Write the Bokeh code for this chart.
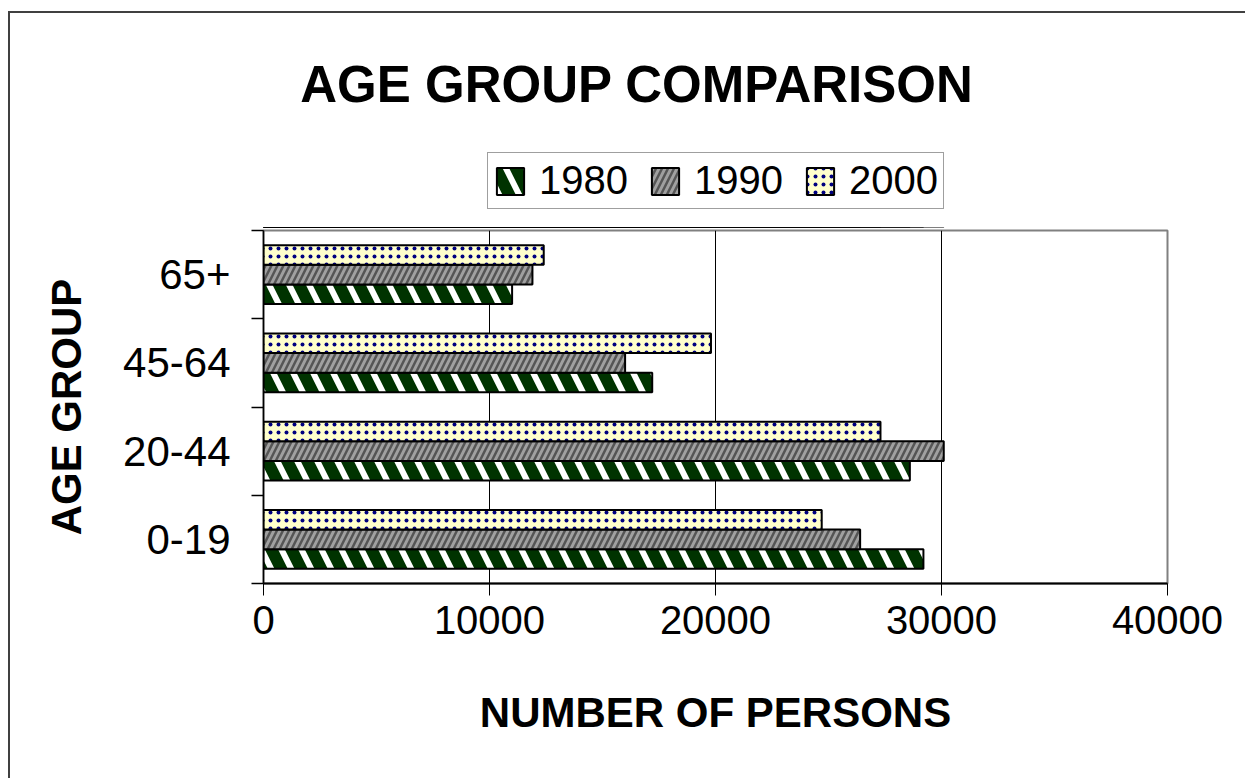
from bokeh.plotting import figure
from bokeh.models import Range1d, FixedTicker, Legend, LegendItem, Label
from bokeh.layouts import column
from bokeh.embed import file_html
from bokeh.resources import INLINE
import numpy as np

# ---- data ----
groups = ["0-19", "20-44", "45-64", "65+"]
years = ["1980", "1990", "2000"]
persons_1980 = [29200, 28600, 17200, 11000]
persons_1990 = [26400, 30100, 16000, 11900]
persons_2000 = [24700, 27300, 19800, 12400]
x_ticks = [0, 10000, 20000, 30000, 40000]

title_text = "AGE GROUP COMPARISON"
x_title = "NUMBER OF PERSONS"
y_title = "AGE GROUP"

FONT = "Liberation Sans"

series = [persons_1980, persons_1990, persons_2000]
styles = [
    dict(fill_color="#003300", hatch_pattern="left_diagonal_line", hatch_color="white",
         hatch_scale=40, hatch_weight=6),
    dict(fill_color="#a0a0a0", hatch_pattern="right_diagonal_line", hatch_color="#555555",
         hatch_scale=12, hatch_weight=2.5),
    dict(fill_color="#ffffcc", hatch_pattern="dot", hatch_color="#000080",
         hatch_scale=8, hatch_weight=7),
]

n = len(groups)
centers = np.arange(n) + 0.5
boundaries = np.arange(n + 1)
group_width = 1 / 1.5          # gap width 50%
bar_h = group_width / len(years)

FRAME_W = 904
BORDER_L = 253
BORDER_R = 78

# ---------------- header: title + legend ----------------
HEAD_H = 215
head = figure(frame_width=FRAME_W, frame_height=HEAD_H,
              min_border_left=BORDER_L, min_border_right=BORDER_R,
              min_border_top=0, min_border_bottom=0,
              x_range=Range1d(x_ticks[0], x_ticks[-1]), y_range=Range1d(100, 101),
              x_axis_type=None, y_axis_type=None,
              output_backend="svg", toolbar_location=None)
head.grid.visible = False
head.outline_line_color = None
head.background_fill_color = "white"
head.border_fill_color = "white"

# legend proxies (same data, lying outside the header's visible range)
legend_renderers = []
for j, (vals, st) in enumerate(zip(series, styles)):
    ys = centers + (j - (len(years) - 1) / 2) * bar_h
    r = head.hbar(y=ys, left=0, right=vals, height=bar_h,
                  line_color="black", line_width=2, **st)
    legend_renderers.append(r)

legend = Legend(items=[LegendItem(label=yr, renderers=[r]) for yr, r in zip(years, legend_renderers)],
                orientation="horizontal", location=(224, 19),
                border_line_color="#404040", border_line_width=1.5,
                background_fill_color="white", background_fill_alpha=1,
                glyph_width=34, glyph_height=34,
                label_text_font=FONT, label_text_font_size="40px",
                label_text_color="black",
                padding=5, spacing=20, label_standoff=12, margin=0)
head.add_layout(legend)

head.add_layout(Label(x=373.5, y=144, x_units="screen", y_units="screen",
                      text=title_text, text_align="center", text_baseline="alphabetic",
                      text_font=FONT, text_font_style="bold", text_font_size="51px",
                      text_color="black"))

# ---------------- main chart ----------------
p = figure(frame_width=FRAME_W, frame_height=353,
           min_border_left=BORDER_L, min_border_right=BORDER_R,
           min_border_top=2, min_border_bottom=195,
           x_range=Range1d(x_ticks[0], x_ticks[-1]), y_range=Range1d(0, n),
           output_backend="svg", toolbar_location=None)

p.background_fill_color = "white"
p.border_fill_color = "white"
p.outline_line_color = "#808080"
p.outline_line_width = 2

for j, (vals, st) in enumerate(zip(series, styles)):
    ys = centers + (j - (len(years) - 1) / 2) * bar_h
    p.hbar(y=ys, left=0, right=vals, height=bar_h,
           line_color="black", line_width=2, **st)

# grid
p.ygrid.visible = False
p.xgrid.ticker = FixedTicker(ticks=x_ticks)
p.xgrid.grid_line_color = "black"
p.xgrid.grid_line_width = 1

# x axis
p.xaxis.ticker = FixedTicker(ticks=x_ticks)
p.xaxis.axis_line_color = "black"
p.xaxis.axis_line_width = 2
p.xaxis.major_tick_out = 12
p.xaxis.major_tick_in = 0
p.xaxis.major_tick_line_color = "black"
p.xaxis.minor_tick_line_color = None
p.xaxis.major_label_text_font = FONT
p.xaxis.major_label_text_font_size = "40px"
p.xaxis.major_label_text_color = "black"
p.xaxis.major_label_standoff = 10
p.xaxis.axis_label = x_title
p.xaxis.axis_label_text_font = FONT
p.xaxis.axis_label_text_font_size = "42px"
p.xaxis.axis_label_text_font_style = "bold"
p.xaxis.axis_label_text_color = "black"
p.xaxis.axis_label_standoff = 52

# y axis
p.yaxis.ticker = FixedTicker(ticks=list(centers), minor_ticks=list(boundaries))
p.yaxis.major_label_overrides = {float(c): g for c, g in zip(centers, groups)}
p.yaxis.axis_line_color = "black"
p.yaxis.axis_line_width = 1.5
p.yaxis.major_tick_line_color = None
p.yaxis.major_tick_out = 0
p.yaxis.major_tick_in = 0
p.yaxis.minor_tick_line_color = "black"
p.yaxis.minor_tick_line_width = 1.5
p.yaxis.minor_tick_out = 12
p.yaxis.minor_tick_in = 0
p.yaxis.major_label_text_font = FONT
p.yaxis.major_label_text_font_size = "42px"
p.yaxis.major_label_text_color = "black"
p.yaxis.major_label_standoff = 21
p.yaxis.axis_label = y_title
p.yaxis.axis_label_text_font = FONT
p.yaxis.axis_label_text_font_size = "42px"
p.yaxis.axis_label_text_font_style = "bold"
p.yaxis.axis_label_text_color = "black"
p.yaxis.axis_label_standoff = 30

layout = column(head, p, spacing=0,
                styles={"border-left": "2px solid #404040", "border-top": "2px solid #404040",
                        "margin-top": "11px", "margin-left": "8px"})

open("out.html", "w").write(file_html(layout, INLINE))
